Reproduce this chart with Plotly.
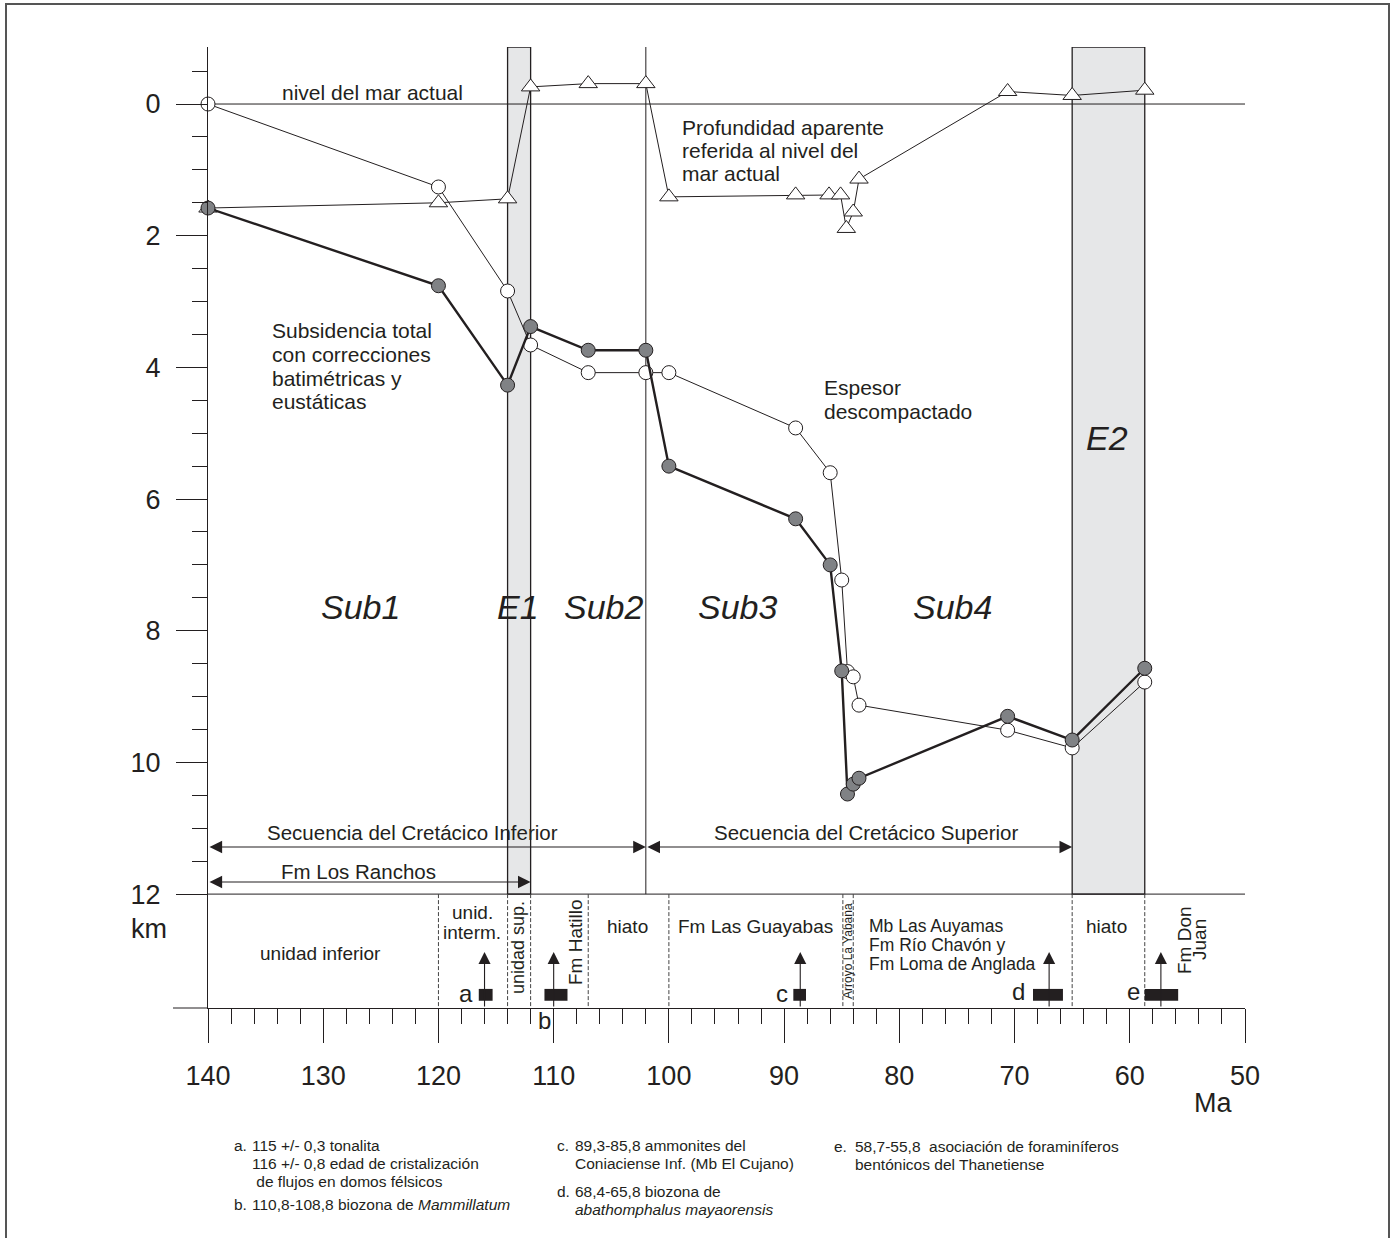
import plotly.graph_objects as go

# ---------------- data ----------------
# Subsidencia total con correcciones batimetricas y eustaticas (gray circles)
age_sub = [140, 120, 114, 112, 107, 102, 100, 89, 86, 85.0, 84.5, 84.0, 83.5, 70.6, 65, 58.7]
sub_total = [1.58, 2.76, 4.27, 3.38, 3.74, 3.74, 5.5, 6.3, 7.0, 8.61, 10.48, 10.33, 10.24, 9.3, 9.66, 8.57]

# Espesor descompactado (open circles)
age_esp = [140, 120, 114, 112, 107, 102, 100, 89, 86, 85.0, 84.5, 84.0, 83.5, 70.6, 65, 58.7]
espesor = [0, 1.26, 2.84, 3.66, 4.08, 4.08, 4.08, 4.92, 5.6, 7.23, 8.62, 8.70, 9.13, 9.51, 9.78, 8.78]

# Profundidad aparente referida al nivel del mar actual (triangles)
age_prof = [140, 120, 114, 112, 107, 102, 100, 89, 86.1, 85.1, 84.6, 84.0, 83.5, 70.6, 65, 58.7]
profundidad = [1.58, 1.5, 1.44, -0.26, -0.31, -0.31, 1.41, 1.38, 1.38, 1.38, 1.89, 1.64, 1.14, -0.19, -0.13, -0.21]

y_tickvals = [0, 2, 4, 6, 8, 10, 12]
y_ticktext = ["0", "2", "4", "6", "8", "10", "12"]
y_minor = [-0.5, 0.5, 1, 1.5, 2.5, 3, 3.5, 4.5, 5, 5.5, 6.5, 7, 7.5, 8.5, 9, 9.5, 10.5, 11, 11.5]
x_tickvals = [140, 130, 120, 110, 100, 90, 80, 70, 60, 50]
x_ticktext = ["140", "130", "120", "110", "100", "90", "80", "70", "60", "50"]

# extension stages (grey bands)
band_names = ["E1", "E2"]
band_start = [114, 65]
band_end = [112, 58.7]
sequence_boundary = 102

# sequences (double arrows)
seq_names = ["Secuencia del Cretácico Inferior", "Secuencia del Cretácico Superior", "Fm Los Ranchos"]
seq_start = [140, 102, 140]
seq_end = [102, 65, 112]

# formation boundaries in lower band
formation_bounds = [120, 114, 112, 107, 100, 84.9, 84.0, 65, 58.7]

# age constraints a-e
bio_labels = ["a", "b", "c", "d", "e"]
bio_start = [116.5, 110.8, 89.2, 68.4, 58.7]
bio_end = [115.3, 108.8, 88.1, 65.8, 55.8]
bio_arrow = [116.0, 110.0, 88.6, 67.0, 57.3]

# ---------------- geometry ----------------
W, H = 1395, 1238
ML, MR, MT, MB = 208, 150, 47, 230
Y_TOP, Y_BOT = -0.866, 13.73
X_LEFT, X_RIGHT = 140, 50
PW = W - ML - MR
PH = H - MT - MB


def X(px):
    return X_LEFT - (px - ML) / PW * (X_LEFT - X_RIGHT)


def Y(py):
    return Y_TOP + (py - MT) / PH * (Y_BOT - Y_TOP)


def PX(px):
    return (px - ML) / PW


def PY(py):
    return (MT + PH - py) / PH


INK = "#231f20"
FONT = "Liberation Sans, Arial, Helvetica, sans-serif"

fig = go.Figure()

fig.add_trace(go.Scatter(
    x=age_prof, y=profundidad, mode="lines+markers",
    line=dict(color=INK, width=1),
    marker=dict(symbol="triangle-up", size=16, color="white", line=dict(color=INK, width=1)),
    showlegend=False, cliponaxis=False))
fig.add_trace(go.Scatter(
    x=age_esp, y=espesor, mode="lines+markers",
    line=dict(color=INK, width=1),
    marker=dict(symbol="circle", size=14, color="white", line=dict(color=INK, width=1)),
    showlegend=False, cliponaxis=False))
fig.add_trace(go.Scatter(
    x=age_sub, y=sub_total, mode="lines+markers",
    line=dict(color=INK, width=2.4),
    marker=dict(symbol="circle", size=14, color="#808285", line=dict(color=INK, width=1)),
    showlegend=False, cliponaxis=False))

shapes = []
for s, e in zip(band_start, band_end):
    shapes.append(dict(type="rect", xref="x", yref="y", x0=s, x1=e, y0=Y_TOP, y1=12,
                       fillcolor="#e6e7e8", line=dict(color=INK, width=1.3), layer="below"))
shapes.append(dict(type="line", xref="x", yref="y", x0=sequence_boundary, x1=sequence_boundary,
                   y0=Y_TOP, y1=12, line=dict(color=INK, width=1), layer="below"))
for yy in (0, 12):
    shapes.append(dict(type="line", xref="x", yref="y", x0=X_LEFT, x1=X_RIGHT, y0=yy, y1=yy,
                       line=dict(color=INK, width=1), layer="below"))
for fb in formation_bounds:
    shapes.append(dict(type="line", xref="x", yref="y", x0=fb, x1=fb, y0=12, y1=Y_BOT,
                       line=dict(color="#444444", width=1, dash="4px,2px"), layer="below"))
for s, e in zip(bio_start, bio_end):
    shapes.append(dict(type="rect", xref="x", yref="y", x0=s, x1=e, y0=13.44, y1=13.62,
                       fillcolor=INK, line=dict(color=INK, width=0), layer="above"))
shapes.append(dict(type="line", xref="paper", yref="paper", x0=PX(173), x1=0, y0=0, y1=0,
                   line=dict(color=INK, width=1)))
shapes.append(dict(type="rect", xref="paper", yref="paper",
                   x0=PX(6), x1=PX(1389), y0=PY(1300), y1=PY(4),
                   line=dict(color="#555555", width=2), fillcolor="rgba(0,0,0,0)"))

ann = []


def txt(text, x, y, size, xanchor="center", yanchor="middle", angle=0, italic=False, paper=False):
    if italic:
        text = "<i>" + text + "</i>"
    ann.append(dict(text=text, x=x, y=y, xref="paper" if paper else "x", yref="paper" if paper else "y",
                    showarrow=False, xanchor=xanchor, yanchor=yanchor, textangle=angle,
                    font=dict(family=FONT, size=size, color=INK)))


def lines(text_list, px, py_list, size, xanchor="left", paper=False):
    for t, py in zip(text_list, py_list):
        if paper:
            txt(t, PX(px), PY(py), size, xanchor=xanchor, paper=True)
        else:
            txt(t, X(px), Y(py), size, xanchor=xanchor)


# sequence double arrows
seq_y = [Y(847), Y(847), Y(882)]
seq_text_y = [Y(832), Y(832), Y(871)]
seq_text_px = [412, 866, 358]
for name, s, e, yy, ty, tp in zip(seq_names, seq_start, seq_end, seq_y, seq_text_y, seq_text_px):
    ann.append(dict(x=e, y=yy, ax=s, ay=yy, xref="x", yref="y", axref="x", ayref="y",
                    text="", showarrow=True, arrowside="end+start", arrowhead=2, startarrowhead=2,
                    arrowsize=2.3, startarrowsize=2.3, arrowwidth=1.1, arrowcolor=INK,
                    standoff=0, startstandoff=0))
    txt(name, X(tp), ty, 20.5)

# biozone arrows
for lab, xa in zip(bio_labels, bio_arrow):
    ann.append(dict(x=xa, y=Y(952), ax=xa, ay=Y_BOT, xref="x", yref="y", axref="x", ayref="y",
                    text="", showarrow=True, arrowhead=2, arrowsize=2.2, arrowwidth=1.1,
                    arrowcolor=INK, standoff=0))
letter_px = [466, 544, 782, 1018, 1133]
letter_py = [993, 1020, 993, 991, 991]
for lab, lx, ly in zip(bio_labels, letter_px, letter_py):
    txt(lab, PX(lx), PY(ly), 24, paper=True)

# curve labels
txt("nivel del mar actual", X(372), Y(92), 21)
lines(["Profundidad aparente", "referida al nivel del", "mar actual"], 680, [127, 150, 173], 21)
lines(["Subsidencia total", "con correcciones", "batimétricas y", "eustáticas"], 270, [330, 354, 378, 401], 21)
lines(["Espesor", "descompactado"], 822, [387, 411], 21)

# stage labels
for name, px in zip(["Sub1", "E1", "Sub2", "Sub3", "Sub4"], [360, 518, 603, 737, 952]):
    txt(name, X(px), Y(607), 34, italic=True)
txt("E2", X(1107), Y(438), 34, italic=True)

# formation band labels
txt("unidad inferior", X(320), Y(953), 19)
lines(["unid.", "interm."], 472, [912, 932], 19, xanchor="center")
txt("unidad sup.", X(518), Y(948), 18, angle=-90)
txt("Fm Hatillo", X(575), Y(942), 19, angle=-90)
txt("hiato", X(627), Y(926), 19)
txt("Fm Las Guayabas", X(755), Y(926), 19)
txt("Arroyo La Yabana", X(848), Y(951), 12, angle=-90)
lines(["Mb Las Auyamas", "Fm Río Chavón y", "Fm Loma de Anglada"], 867, [926, 945, 964], 17.5)
txt("hiato", X(1106), Y(926), 19)
txt("Fm Don", X(1184), Y(940), 19, angle=-90)
txt("Juan", X(1199), Y(940), 19, angle=-90)

# axis unit labels
txt("km", PX(169), PY(929), 27, xanchor="right", paper=True)
txt("Ma", PX(1213), PY(1103), 27, paper=True)

# footnotes
FS = 15.5
lines(["a."], 232, [1145], FS, paper=True)
lines(["115 +/- 0,3 tonalita", "116 +/- 0,8 edad de cristalización", " de flujos en domos félsicos"],
      250, [1145, 1163, 1181], FS, paper=True)
lines(["b."], 232, [1204], FS, paper=True)
lines(["110,8-108,8 biozona de <i>Mammillatum</i>"], 250, [1204], FS, paper=True)
lines(["c."], 555, [1145], FS, paper=True)
lines(["89,3-85,8 ammonites del", "Coniaciense Inf. (Mb El Cujano)"], 573, [1145, 1163], FS, paper=True)
lines(["d."], 555, [1191], FS, paper=True)
lines(["68,4-65,8 biozona de", "<i>abathomphalus mayaorensis</i>"], 573, [1191, 1209], FS, paper=True)
lines(["e."], 832, [1146], FS, paper=True)
lines(["58,7-55,8  asociación de foraminíferos", "bentónicos del Thanetiense"], 853, [1146, 1164], FS, paper=True)

fig.update_layout(
    width=W, height=H,
    margin=dict(l=ML, r=MR, t=MT, b=MB, pad=0),
    paper_bgcolor="white", plot_bgcolor="white",
    shapes=shapes, annotations=ann,
    font=dict(family=FONT, color=INK),
    xaxis=dict(range=[X_LEFT, X_RIGHT], showgrid=False, zeroline=False,
               showline=True, linecolor=INK, linewidth=1,
               ticks="outside", tickvals=x_tickvals, ticktext=x_ticktext, ticklen=34,
               tickcolor=INK, tickwidth=1, ticklabelstandoff=10,
               tickfont=dict(family=FONT, size=27, color=INK),
               minor=dict(ticks="outside", dtick=2, tick0=0, ticklen=15, tickcolor=INK, tickwidth=1, showgrid=False)),
    yaxis=dict(range=[Y_BOT, Y_TOP], showgrid=False, zeroline=False,
               showline=True, linecolor=INK, linewidth=1,
               ticks="outside", tickvals=y_tickvals, ticktext=y_ticktext, ticklen=31,
               tickcolor=INK, tickwidth=1, ticklabelstandoff=10,
               tickfont=dict(family=FONT, size=27, color=INK),
               minor=dict(ticks="outside", tickvals=y_minor, ticklen=15, tickcolor=INK, tickwidth=1, showgrid=False)),
)

fig.write_html("out.html", config={"displayModeBar": False},
               post_script="document.body.style.margin='0';document.body.style.overflow='hidden';")
